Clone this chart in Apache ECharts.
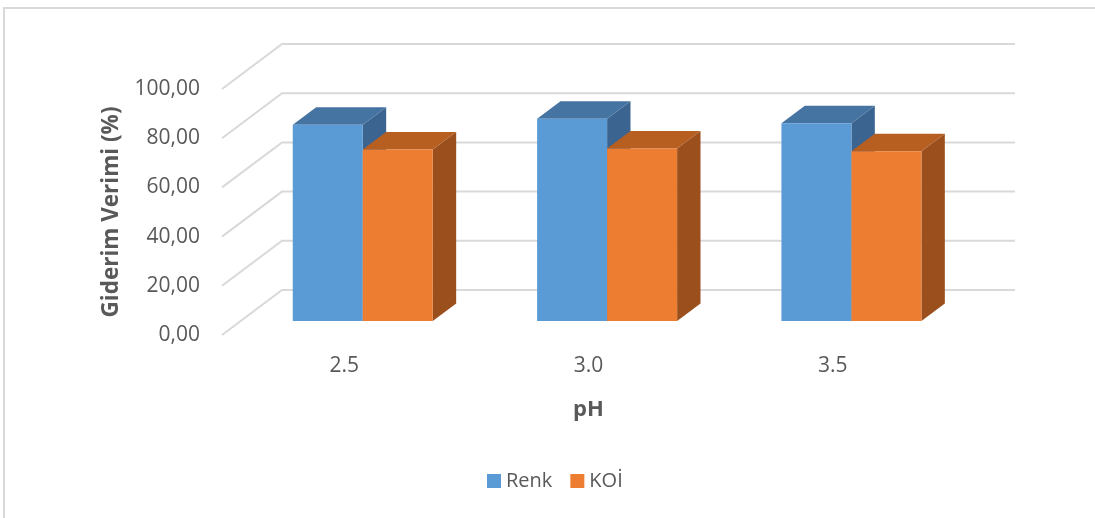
<!DOCTYPE html>
<html>
<head>
<meta charset="utf-8">
<title>Giderim Verimi - pH</title>
<script src="https://cdn.jsdelivr.net/npm/echarts@6/dist/echarts.min.js"></script>
<style>
  html, body { margin: 0; padding: 0; background: #ffffff; }
  #chart { width: 1095px; height: 518px; }
</style>
</head>
<body>
<div id="chart"></div>
<script>
// pH categories and removal efficiencies (%)
const categories = ['2.5', '3.0', '3.5'];
const renkValues = [79.8, 82.2, 80.4];
const koiValues = [69.7, 70.1, 69.0];
const valueTicks = [0, 20, 40, 60, 80, 100];

// Oblique 3D projection: floor depth in pixels (back wall -> front edge)
const DEPTH_DX = 60;
const DEPTH_DY = 45;
// Bar front/back face positions, as a fraction of the floor depth from the back wall
const BAR_FRONT = 0.69;
const BAR_BACK = 0.30;
// Width of one bar relative to the category band
const BAR_FRAC = 0.2865;

const FONT = '"Open Sans", "Liberation Sans", sans-serif';
const TEXT_COLOR = '#595959';
const GRID_COLOR = '#D9D9D9';

const palette = {
  renk: { front: '#5B9BD5', top: '#4674A2', side: '#3B6590' },
  koi: { front: '#ED7D31', top: '#B75E21', side: '#9A4F1D' }
};

function barRenderer(slot, colors) {
  return function (params, api) {
    const cat = api.value(0);
    const val = api.value(1);
    const base = api.coord([cat, 0]);
    const top = api.coord([cat, val]);
    const band = api.size([1, 0])[0];
    const w = band * BAR_FRAC;
    const fx = -DEPTH_DX * BAR_FRONT, fy = DEPTH_DY * BAR_FRONT;
    const bx = -DEPTH_DX * BAR_BACK, by = DEPTH_DY * BAR_BACK;
    const ddx = bx - fx, ddy = by - fy;
    const x0 = base[0] + fx + (slot === 0 ? -w : 0);
    const x1 = x0 + w;
    const yb = base[1] + fy;
    const yt = top[1] + fy;
    return {
      type: 'group',
      children: [
        {
          type: 'polygon',
          shape: { points: [[x1, yt], [x1, yb], [x1 + ddx, yb + ddy], [x1 + ddx, yt + ddy]] },
          style: { fill: colors.side }
        },
        {
          type: 'polygon',
          shape: { points: [[x0, yt], [x1, yt], [x1 + ddx, yt + ddy], [x0 + ddx, yt + ddy]] },
          style: { fill: colors.top }
        },
        {
          type: 'rect',
          shape: { x: x0, y: yt, width: w, height: yb - yt },
          style: { fill: colors.front }
        }
      ]
    };
  };
}

function gridLineRenderer(params, api) {
  const cs = params.coordSys;
  const y = api.coord([0, api.value(1)])[1];
  return {
    type: 'polyline',
    shape: { points: [[cs.x - DEPTH_DX, y + DEPTH_DY], [cs.x, y], [cs.x + cs.width, y]] },
    style: { stroke: GRID_COLOR, lineWidth: 2, fill: null }
  };
}

const chart = echarts.init(document.getElementById('chart'), null, { renderer: 'canvas' });

chart.setOption({
  animation: false,
  backgroundColor: '#ffffff',
  textStyle: { fontFamily: FONT },
  graphic: [
    {
      type: 'rect',
      silent: true,
      z: -10,
      shape: { x: 4, y: 8, width: 1110, height: 530 },
      style: { fill: null, stroke: GRID_COLOR, lineWidth: 2 }
    }
  ],
  grid: [
    // back wall plane
    { left: 282, top: 44, width: 733, height: 246 },
    // front edge of the floor
    { left: 222, top: 89, width: 733, height: 246 }
  ],
  xAxis: [
    { type: 'category', gridIndex: 0, data: categories, show: false },
    {
      type: 'category', gridIndex: 1, data: categories,
      axisLine: { show: false }, axisTick: { show: false }, splitLine: { show: false },
      axisLabel: { color: TEXT_COLOR, fontSize: 21, fontFamily: FONT, margin: 21 },
      name: 'pH', nameLocation: 'middle', nameGap: 64,
      nameTextStyle: { color: TEXT_COLOR, fontSize: 22, fontWeight: 'bold', fontFamily: FONT }
    }
  ],
  yAxis: [
    { type: 'value', gridIndex: 0, min: 0, max: 100, interval: 20, show: false },
    {
      type: 'value', gridIndex: 1, min: 0, max: 100, interval: 20,
      axisLine: { show: false }, axisTick: { show: false }, splitLine: { show: false },
      axisLabel: {
        color: TEXT_COLOR, fontSize: 21, fontFamily: FONT, margin: 22,
        formatter: function (v) { return v.toFixed(2).replace('.', ','); }
      },
      name: 'Giderim Verimi (%)', nameLocation: 'middle', nameGap: 99,
      nameTextStyle: { color: TEXT_COLOR, fontSize: 22.5, fontWeight: 'bold', fontFamily: FONT }
    }
  ],
  legend: {
    left: 482, top: 466,
    itemWidth: 14, itemHeight: 14, itemGap: 18,
    icon: 'rect',
    data: ['Renk', 'KOİ'],
    textStyle: { color: TEXT_COLOR, fontSize: 20, fontFamily: FONT }
  },
  series: [
    {
      type: 'custom', name: 'grid', xAxisIndex: 0, yAxisIndex: 0, z: 1, silent: true,
      renderItem: gridLineRenderer,
      data: valueTicks.map(function (v) { return [0, v]; })
    },
    {
      type: 'custom', name: 'Renk', xAxisIndex: 0, yAxisIndex: 0, z: 2,
      itemStyle: { color: palette.renk.front },
      renderItem: barRenderer(0, palette.renk),
      data: renkValues.map(function (v, i) { return [i, v]; })
    },
    {
      type: 'custom', name: 'KOİ', xAxisIndex: 0, yAxisIndex: 0, z: 3,
      itemStyle: { color: palette.koi.front },
      renderItem: barRenderer(1, palette.koi),
      data: koiValues.map(function (v, i) { return [i, v]; })
    }
  ]
});
</script>
</body>
</html>
